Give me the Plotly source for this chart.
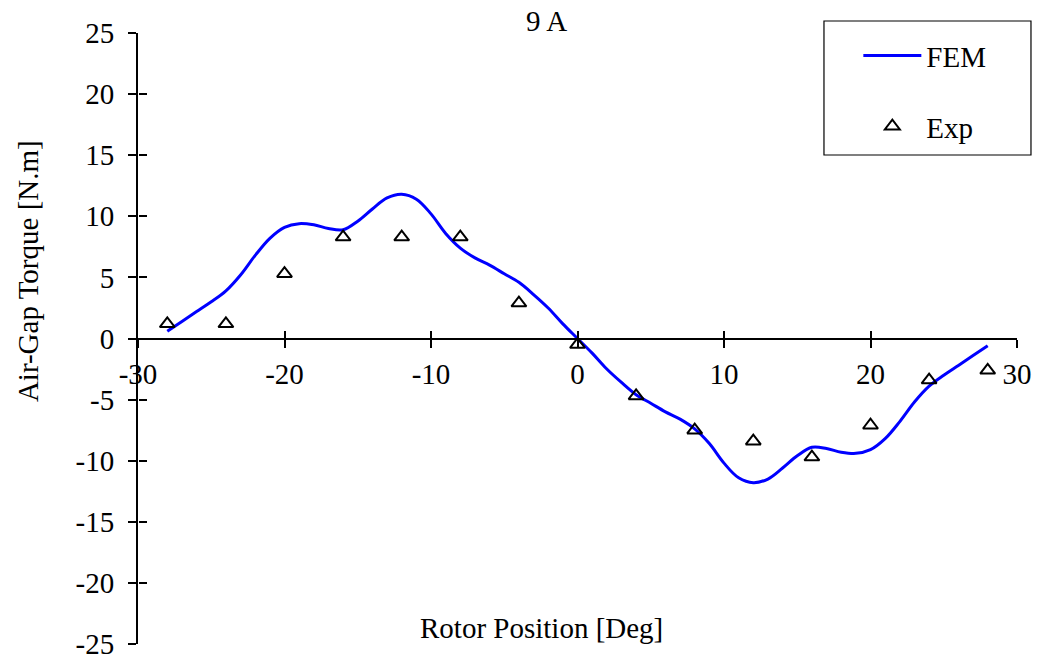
import plotly.graph_objects as go

# FEM curve (rotor position in degrees, torque in N.m)
fem_x = list(range(-28, 29))
fem_y = [0.6, 1.4, 2.2, 3.0, 3.9, 5.2, 6.8, 8.2, 9.1, 9.4, 9.3, 9.0, 8.9, 9.6,
         10.6, 11.5, 11.8, 11.4, 10.2, 8.6, 7.4, 6.6, 6.0, 5.3, 4.6, 3.6, 2.5, 1.2,
         0.0,
         -1.2, -2.5, -3.6, -4.6, -5.3, -6.0, -6.6, -7.4, -8.6, -10.2, -11.4, -11.8,
         -11.5, -10.6, -9.6, -8.9, -9.0, -9.3, -9.4, -9.1, -8.2, -6.8, -5.2, -3.9,
         -3.0, -2.2, -1.4, -0.6]

# Experimental points
exp_x = [-28, -24, -20, -16, -12, -8, -4, 0, 4, 8, 12, 16, 20, 24, 28]
exp_y = [1.2, 1.2, 5.3, 8.3, 8.3, 8.3, 2.9, -0.5, -4.7, -7.5, -8.4, -9.7, -7.1, -3.4, -2.6]

x_ticks = [-30, -20, -10, 0, 10, 20, 30]
x_ticktext = ["-30", "-20", "-10", "0", "10", "20", "30"]
y_ticks = [-25, -20, -15, -10, -5, 0, 5, 10, 15, 20, 25]
y_ticktext = ["-25", "-20", "-15", "-10", "-5", "0", "5", "10", "15", "20", "25"]

FONT = "Liberation Serif, Times New Roman, serif"
FS = 29

fig = go.Figure()
fig.add_trace(go.Scatter(x=fem_x, y=fem_y, mode="lines", name="FEM",
                         line=dict(color="#0000FF", width=3, shape="spline", smoothing=1.0),
                         legendgroup="a"))
# Exp points drawn on the overlay axes (identical ranges) which carry the inner tick halves
fig.add_trace(go.Scatter(x=exp_x, y=exp_y, mode="markers", name="Exp",
                         xaxis="x2", yaxis="y2",
                         marker=dict(symbol="triangle-up-open", size=13, color="black",
                                     line=dict(width=2, color="black")),
                         legendgroup="b"))

axis_common = dict(showgrid=False, zeroline=False, linecolor="black", linewidth=2,
                   tickcolor="black", tickwidth=2, ticklen=8, automargin=False,
                   tickfont=dict(family=FONT, size=FS, color="black"))

fig.update_layout(
    width=1038, height=659,
    margin=dict(l=138, r=21, t=33, b=15, autoexpand=False),
    paper_bgcolor="white", plot_bgcolor="white",
    font=dict(family=FONT, size=FS, color="black"),
    xaxis=dict(range=[-30, 30], tickmode="array", tickvals=x_ticks, ticktext=x_ticktext,
               anchor="free", position=0.5, ticks="outside", showline=True,
               ticklabelstandoff=2, ticklabeloverflow="allow", **axis_common),
    yaxis=dict(range=[-25, 25], tickmode="array", tickvals=y_ticks, ticktext=y_ticktext,
               anchor="x", ticks="outside", showline=True, ticklabelstandoff=8,
               ticklabeloverflow="allow", **axis_common),
    xaxis2=dict(range=[-30, 30], overlaying="x", anchor="free", position=0.5,
                tickmode="array", tickvals=x_ticks, ticks="inside", showticklabels=False,
                showline=False, showgrid=False, zeroline=False, automargin=False,
                tickcolor="black", tickwidth=2, ticklen=8),
    yaxis2=dict(range=[-25, 25], overlaying="y", anchor="free", position=0, side="left",
                tickmode="array", tickvals=y_ticks, ticks="inside", showticklabels=False,
                showline=False, showgrid=False, zeroline=False, automargin=False,
                tickcolor="black", tickwidth=2, ticklen=8),
    legend=dict(x=0.8195, y=1.0046, xanchor="left", yanchor="top",
                bgcolor="rgba(0,0,0,0)", borderwidth=0,
                font=dict(family=FONT, size=FS, color="black"),
                itemwidth=58, tracegroupgap=30),
    showlegend=True,
)

# legend frame
fig.add_shape(type="rect", xref="paper", yref="paper",
              x0=0.7804, x1=1.0159, y0=0.8003, y1=1.0196,
              line=dict(color="black", width=1.2), fillcolor="rgba(0,0,0,0)")

fig.add_annotation(text="9 A", xref="paper", yref="paper", x=0.465, y=1.0196,
                   xanchor="center", yanchor="middle", showarrow=False,
                   font=dict(family=FONT, size=FS, color="black"))
fig.add_annotation(text="Rotor Position [Deg]", xref="paper", yref="paper", x=0.459, y=0.026,
                   xanchor="center", yanchor="middle", showarrow=False,
                   font=dict(family=FONT, size=FS, color="black"))
fig.add_annotation(text="Air-Gap Torque [N.m]", xref="paper", yref="paper", x=-0.125, y=0.6105,
                   xanchor="center", yanchor="middle", showarrow=False, textangle=-90,
                   font=dict(family=FONT, size=FS, color="black"))

fig.write_html(
    "out.html",
    config={"displayModeBar": False},
    post_script=("document.body.style.margin='0px';"
                 "document.body.style.overflow='hidden';"
                 "document.documentElement.style.overflow='hidden';"),
)
